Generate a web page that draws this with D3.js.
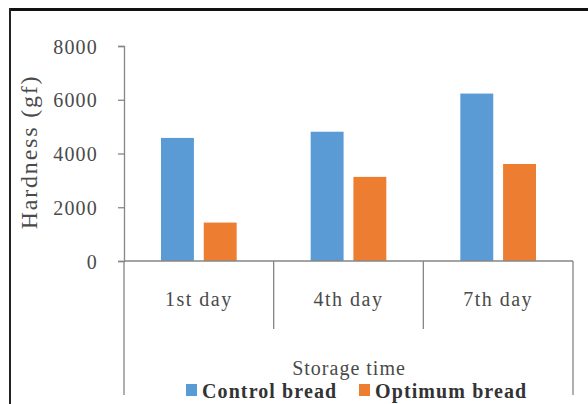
<!DOCTYPE html>
<html>
<head>
<meta charset="utf-8">
<script src="https://cdn.jsdelivr.net/npm/d3@7.9.0/dist/d3.min.js"></script>
<style>
  body { margin: 0; background: #fff; }
  svg { display: block; }
  text { font-family: "Liberation Serif", "Times New Roman", serif; }
</style>
</head>
<body>
<svg id="chart" width="588" height="404"></svg>
<script>
const categories = ['1st day', '4th day', '7th day'];
const series = ['Control bread', 'Optimum bread'];
const controlBread = [4580, 4810, 6230];
const optimumBread = [1430, 3130, 3610];
const yTicks = [0, 2000, 4000, 6000, 8000];
const colors = ['#5b9bd5', '#ed7d31'];

const svg = d3.select('#chart');

// frame lines round the picture
svg.append('line').attr('x1', 10).attr('x2', 588).attr('y1', 9.5).attr('y2', 9.5)
    .attr('stroke', '#111').attr('stroke-width', 3);
svg.append('line').attr('x1', 10).attr('x2', 10).attr('y1', 8).attr('y2', 404)
    .attr('stroke', '#222').attr('stroke-width', 2);

const plotLeft = 124, plotRight = 573, plotTop = 46, plotBottom = 261;

const y = d3.scaleLinear().domain([0, 8000]).range([plotBottom, plotTop]);
const x0 = d3.scaleBand().domain(categories).range([plotLeft, plotRight]);
const x1 = d3.scaleBand().domain(series)
    .range([37, x0.bandwidth() - 37]).paddingInner(0.23);

const axisColor = '#868686';
const textColor = '#4a4a4a';

// bars
const rows = categories.map((c, i) => ({cat: c, values: [controlBread[i], optimumBread[i]]}));
const groups = svg.append('g').selectAll('g').data(rows).join('g')
    .attr('transform', d => `translate(${x0(d.cat)},0)`);
groups.selectAll('rect')
    .data(d => d.values.map((v, j) => ({name: series[j], value: v, j})))
    .join('rect')
    .attr('x', d => x1(d.name))
    .attr('y', d => y(d.value))
    .attr('width', x1.bandwidth())
    .attr('height', d => y(0) - y(d.value))
    .attr('fill', d => colors[d.j]);

// y axis
const yAxis = svg.append('g').attr('transform', `translate(${plotLeft},0)`)
    .call(d3.axisLeft(y).tickValues(yTicks).tickSize(6).tickPadding(20).tickFormat(d3.format('d')));
yAxis.select('.domain').attr('stroke', axisColor).attr('stroke-width', 1.3);
yAxis.selectAll('.tick line').attr('stroke', axisColor).attr('stroke-width', 1.3);
yAxis.selectAll('.tick text').attr('font-size', 20).attr('fill', textColor)
    .attr('letter-spacing', 1.2).attr('dy', '0.35em');

// x axis line
svg.append('line').attr('x1', plotLeft).attr('x2', plotRight).attr('y1', plotBottom).attr('y2', plotBottom)
    .attr('stroke', axisColor).attr('stroke-width', 1.3);

// category separators
const edges = categories.map(c => x0(c)).concat([plotRight]);
svg.append('g').selectAll('line').data(edges).join('line')
    .attr('x1', d => d).attr('x2', d => d)
    .attr('y1', plotBottom)
    .attr('y2', (d, i) => (i === 0 || i === edges.length - 1) ? 395 : 329)
    .attr('stroke', axisColor).attr('stroke-width', 1.3);

// category labels
svg.append('g').selectAll('text').data(categories).join('text')
    .attr('x', d => x0(d) + x0.bandwidth() / 2)
    .attr('y', 306)
    .attr('text-anchor', 'middle')
    .attr('font-size', 20)
    .attr('letter-spacing', 1.5)
    .attr('fill', textColor)
    .text(d => d);

// axis titles
svg.append('text')
    .attr('x', 349)
    .attr('y', 375)
    .attr('text-anchor', 'middle')
    .attr('font-size', 20)
    .attr('letter-spacing', 1)
    .attr('fill', textColor)
    .text('Storage time');

svg.append('text')
    .attr('transform', `translate(37,152) rotate(-90)`)
    .attr('text-anchor', 'middle')
    .attr('font-size', 24)
    .attr('letter-spacing', 1.8)
    .attr('fill', textColor)
    .text('Hardness (gf)');

// legend
const legendX = [186, 359];
const legend = svg.append('g').selectAll('g').data(series).join('g')
    .attr('transform', (d, i) => `translate(${legendX[i]},384)`);
legend.append('rect').attr('width', 11).attr('height', 12)
    .attr('fill', (d, i) => colors[i]);
legend.append('text')
    .attr('x', 16).attr('y', 14)
    .attr('font-size', 20).attr('font-weight', 'bold')
    .attr('letter-spacing', 1.1)
    .attr('fill', '#333')
    .text(d => d);
</script>
</body>
</html>
